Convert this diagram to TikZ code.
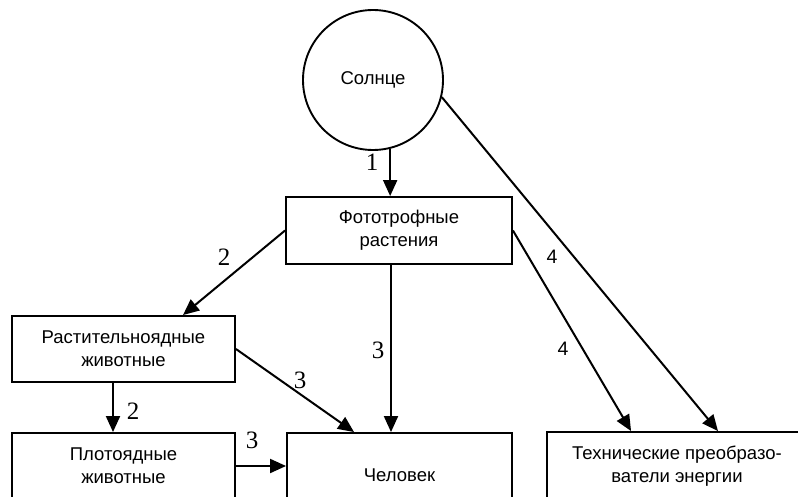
\documentclass[tikz,border=0pt]{standalone}
\usepackage{fontspec}
\setmainfont{Liberation Sans}
\newfontfamily\numserif{Liberation Serif}
\usetikzlibrary{arrows.meta,calc}
\begin{document}
\begin{tikzpicture}[x=1pt,y=-1pt,
  box/.style={draw,line width=1.9pt,inner sep=0pt,align=center,font=\fontsize{18.5}{23}\selectfont},
  conn/.style={line width=2pt,-{Triangle[length=16pt,width=14pt]}},
  numlab/.style={font=\numserif\fontsize{25}{25}\selectfont,inner sep=0pt},
  numsans/.style={font=\fontsize{19.5}{19.5}\selectfont,inner sep=0pt}]
\useasboundingbox (0,0) rectangle (798,497);
\clip (0,0) rectangle (798,497);
\node[draw,circle,line width=1.9pt,minimum size=140pt,inner sep=0pt,font=\fontsize{18.5}{23}\selectfont] (sun) at (373,80) {Солнце};
\node[box,minimum width=226pt,minimum height=67pt] (photo) at (399,230.5) {Фототрофные\\растения};
\node[box,minimum width=223pt,minimum height=66pt] (rast) at (123.5,349) {Растительноядные\\животные};
\node[box,minimum width=223pt,minimum height=66pt] (plot) at (123.5,466) {Плотоядные\\животные};
\node[box,minimum width=225pt,minimum height=84pt] (chel) at (399.5,475) {Человек};
\node[box,minimum width=260pt,minimum height=68pt] (tech) at (677,466) {Технические преобразо-\\ватели энергии};
% connectors
\draw[conn] (sun.-76) -- (sun.-76 |- photo.north);
\draw[conn] (sun.-14) -- ($(tech.north)+(41,0)$);
\draw[conn] (photo.east) -- ($(tech.north west)+(85,0)$);
\draw[conn] (photo.west) -- ($(rast.north)+(59.5,0)$);
\draw[conn] ($(photo.south)+(-8,0)$) -- ($(chel.north)+(-8.5,0)$);
\draw[conn] (rast.east) -- ($(chel.north west)+(68,0)$);
\draw[conn] ($(rast.south)+(-10.5,0)$) -- ($(plot.north)+(-10.5,0)$);
\draw[conn] (plot.east) -- (plot.east -| chel.west);
% labels
\node[numlab] (l1) at (372,162) {1};
\node[numlab] (l2a) at (224,257) {2};
\node[numlab] (l3a) at (378,350) {3};
\node[numlab] (l3b) at (300,380) {3};
\node[numlab] (l2b) at (133,411) {2};
\node[numlab] (l3c) at (252,440) {3};
\node[numsans] (l4a) at (552,257) {4};
\node[numsans] (l4b) at (563,349) {4};
\end{tikzpicture}
\end{document}
